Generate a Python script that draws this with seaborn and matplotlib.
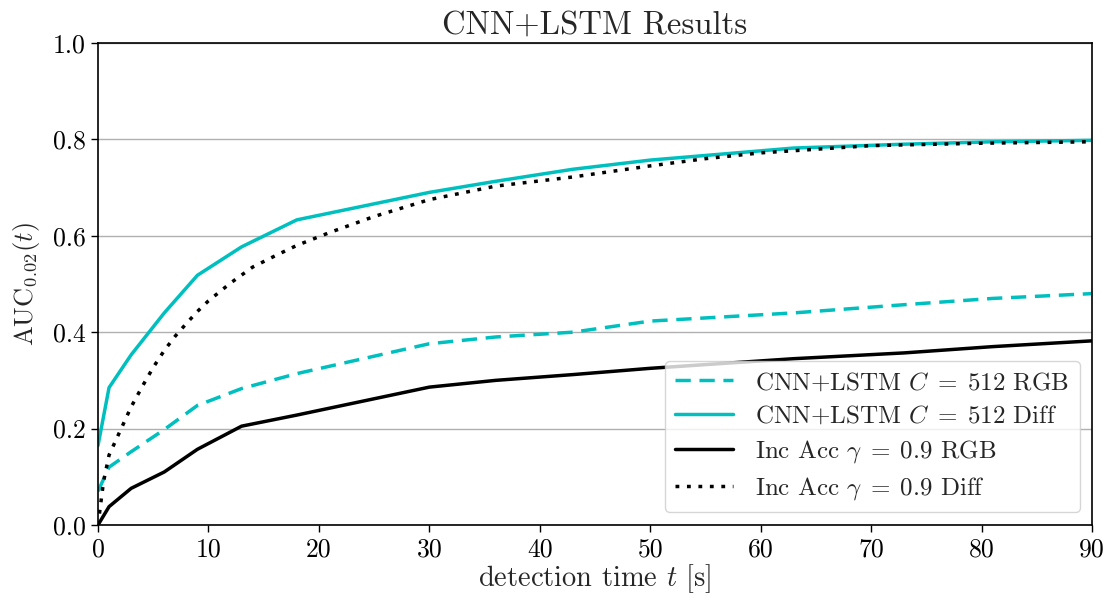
import matplotlib
matplotlib.use("Agg")
import matplotlib.pyplot as plt
import seaborn as sns
import pandas as pd

# ---- data ----
t_main = [0, 1, 3, 6, 9, 13, 18, 30, 36, 43, 50, 63, 73, 81, 90]
cnn_rgb = [0.07, 0.12, 0.152, 0.198, 0.248, 0.283, 0.314, 0.376, 0.390, 0.400, 0.423, 0.440, 0.457, 0.470, 0.480]
cnn_diff = [0.165, 0.285, 0.353, 0.440, 0.518, 0.577, 0.633, 0.690, 0.713, 0.738, 0.757, 0.782, 0.790, 0.795, 0.798]
inc_rgb = [0.0, 0.038, 0.076, 0.110, 0.157, 0.205, 0.228, 0.286, 0.300, 0.312, 0.325, 0.345, 0.357, 0.370, 0.382]

t_inc_diff = [0, 0.5, 1, 2, 3, 4, 5, 6, 7, 8, 9, 10, 12, 14, 16, 18, 21, 25, 30,
              36, 43, 50, 55, 60, 70, 80, 90]
inc_diff = [0.0, 0.09, 0.145, 0.195, 0.245, 0.287, 0.327, 0.362, 0.392, 0.418, 0.443,
            0.465, 0.502, 0.535, 0.558, 0.58, 0.607, 0.64, 0.675, 0.703, 0.722, 0.745,
            0.76, 0.772, 0.787, 0.792, 0.795]

labels = [r"CNN+LSTM $C\;=\;$512 RGB", r"CNN+LSTM $C\;=\;$512 Diff",
          r"Inc Acc $\gamma\;=\;$0.9 RGB", r"Inc Acc $\gamma\;=\;$0.9 Diff"]
yticks = [0.0, 0.2, 0.4, 0.6, 0.8, 1.0]
xticks = [0, 10, 20, 30, 40, 50, 60, 70, 80, 90]

sns.set_style("ticks")
plt.rcParams.update({
    "font.family": "serif",
    "font.serif": ["cmr10"],
    "mathtext.fontset": "cm",
    "axes.formatter.use_mathtext": True,
    "font.size": 16,
    "axes.edgecolor": "black",
    "xtick.color": "black",
    "ytick.color": "black",
    "axes.linewidth": 1.2,
})

fig = plt.figure(figsize=(11.1, 6.01), dpi=100)
ax = fig.add_axes([0.0883, 0.1265, 0.8955, 0.802])

cyan = "#00bfbf"
lw = 2.5
sns.lineplot(x=t_main, y=cnn_rgb, ax=ax, color=cyan, linewidth=lw,
             linestyle=(0, (4.4, 2.5)), label=labels[0])
sns.lineplot(x=t_main, y=cnn_diff, ax=ax, color=cyan, linewidth=lw,
             label=labels[1])
sns.lineplot(x=t_main, y=inc_rgb, ax=ax, color="black", linewidth=lw,
             label=labels[2])
sns.lineplot(x=t_inc_diff, y=inc_diff, ax=ax, color="black", linewidth=lw,
             linestyle=(0, (1.1, 2.2)), label=labels[3])

ax.set_xlim(0, 90)
ax.set_ylim(0, 1.0)
ax.set_xticks(xticks)
ax.set_yticks(yticks)
ax.set_xticklabels([str(v) for v in xticks])
ax.set_yticklabels([f"{v:.1f}" for v in yticks])
ax.yaxis.grid(True, color="#b0b0b0", linewidth=1.0)
ax.set_axisbelow(True)
ax.tick_params(direction="out", length=5, width=1.0, labelsize=18.5, pad=4)
ax.set_xlabel(r"detection time $t$ [s]", fontsize=20.5, labelpad=1)
ax.set_ylabel(r"$\mathrm{AUC}_{0.02}(t)$", fontsize=19, labelpad=8)
ax.set_title("CNN+LSTM Results", fontsize=23.5, pad=7)
for s in ax.spines.values():
    s.set_visible(True)
    s.set_color("black")

ax.legend(loc="lower right", fontsize=18, handlelength=2.3, labelspacing=0.42,
          handletextpad=0.9, borderaxespad=0.5, frameon=True)

fig.savefig("out.png", dpi=100)
